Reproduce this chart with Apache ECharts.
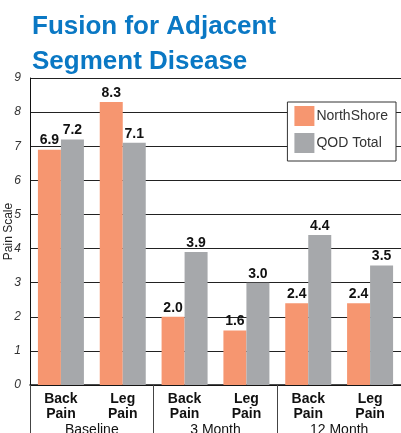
<!DOCTYPE html>
<html>
<head>
<meta charset="utf-8">
<style>
html,body{margin:0;padding:0;background:#fff;}
#chart{width:401px;height:433px;}
</style>
<script src="https://cdn.jsdelivr.net/npm/echarts@6/dist/echarts.min.js"></script>
</head>
<body>
<div id="chart"></div>
<script>
var categories = ["Back\nPain", "Leg\nPain", "Back\nPain", "Leg\nPain", "Back\nPain", "Leg\nPain"];
var groups = ["Baseline", "3 Month", "12 Month"];
var northShore = [6.9, 8.3, 2.0, 1.6, 2.4, 2.4];
var qodTotal = [7.2, 7.1, 3.9, 3.0, 4.4, 3.5];
var yTicks = [0, 9, 1];

var narrow = '"Liberation Sans Narrow", "Arial Narrow", "Liberation Sans", Arial, sans-serif';
var chart = echarts.init(document.getElementById('chart'));
var labelStyle = {
  show: true, position: 'top', distance: 2,
  fontFamily: narrow, fontWeight: 'bold', fontSize: 14, color: '#111',
  formatter: function (p) { return p.value.toFixed(1); }
};
chart.setOption({
  animation: false,
  title: {
    text: 'Fusion for Adjacent\nSegment Disease',
    left: 27, top: 4,
    textStyle: { color: '#0a78c4', fontSize: 26, fontWeight: 'bold', lineHeight: 35, fontFamily: '"Liberation Sans", Arial, sans-serif' }
  },
  legend: {
    orient: 'vertical', right: 5, top: 102,
    itemWidth: 20, itemHeight: 20, itemGap: 7,
    padding: [4, 8, 8, 7],
    backgroundColor: '#fff', borderColor: '#333', borderWidth: 1,
    icon: 'rect',
    textStyle: { fontSize: 14, color: '#333', fontFamily: '"Liberation Sans", Arial, sans-serif', padding: [0, 0, 0, -3] },
    data: ['NorthShore', 'QOD Total']
  },
  grid: { left: 30, right: 0, top: 78, bottom: 48, containLabel: false, outerBoundsMode: 'none' },
  xAxis: [{
    type: 'category', data: categories, position: 'bottom',
    axisLine: { lineStyle: { color: '#111', width: 1.5 } },
    axisTick: { show: false },
    axisLabel: { fontFamily: narrow, fontWeight: 'bold', fontSize: 14, lineHeight: 15, color: '#111', margin: 7 }
  }, {
    type: 'category', data: groups, position: 'bottom',
    axisLine: { show: false },
    axisTick: { show: true, length: 48, lineStyle: { color: '#444', width: 1 } },
    axisLabel: { fontFamily: narrow, fontSize: 14, color: '#111', margin: 38 }
  }],
  yAxis: {
    type: 'value', min: yTicks[0], max: yTicks[1], interval: yTicks[2],
    name: 'Pain Scale', nameLocation: 'middle', nameGap: 15, nameRotate: 90, nameMoveOverlap: false,
    nameTextStyle: { fontFamily: narrow, fontSize: 12, color: '#222' },
    axisLine: { show: true, lineStyle: { color: '#111', width: 1 } },
    axisTick: { show: false },
    axisLabel: { fontStyle: 'italic', fontSize: 12, color: '#333', margin: 9, fontFamily: '"Liberation Sans", Arial, sans-serif' },
    splitLine: { lineStyle: { color: '#222', width: 1 } }
  },
  series: [{
    name: 'NorthShore', type: 'bar', data: northShore, barWidth: 23, barGap: '0%',
    itemStyle: { color: '#f69670' }, label: labelStyle
  }, {
    name: 'QOD Total', type: 'bar', data: qodTotal, barWidth: 23, barGap: '0%',
    itemStyle: { color: '#a6a8ab' }, label: labelStyle
  }]
});
</script>
</body>
</html>
